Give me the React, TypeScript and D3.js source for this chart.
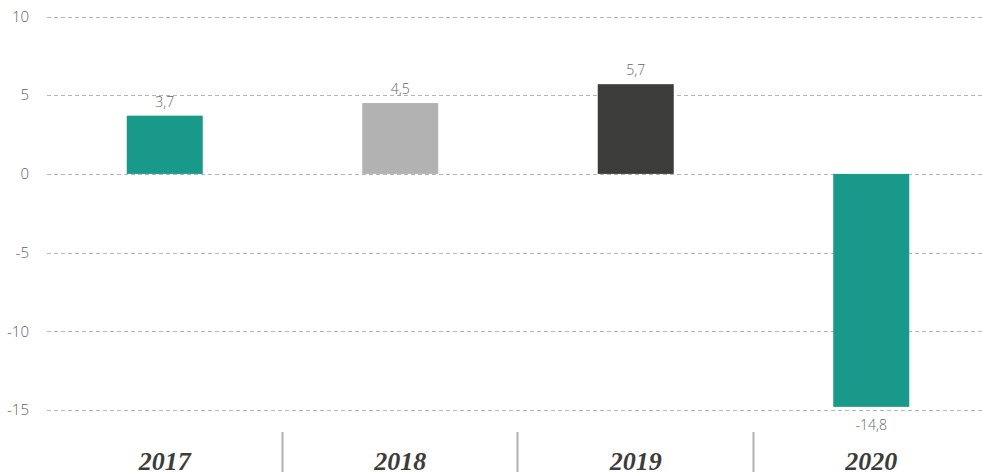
import { useEffect, useRef } from 'react';
import * as d3 from 'd3';

const years = ['2017', '2018', '2019', '2020'];
const growth = [3.7, 4.5, 5.7, -14.8];
const barColors = ['#18998a', '#b2b2b2', '#3c3c3b', '#18998a'];
const yTicks = [10, 5, 0, -5, -10, -15];

const App = () => {
  const svgRef = useRef<SVGSVGElement>(null!);

  useEffect(() => {
    const width = 982;
    const height = 472;
    const svg = d3.select(svgRef.current);
    svg.selectAll('*').remove();
    svg.attr('width', width).attr('height', height);

    const x = d3.scaleBand<string>().domain(years).range([47, 989]);
    const y = d3.scaleLinear().domain([-15, 10]).range([410, 16.5]);
    const barW = 76;

    // grid + y labels
    const grid = svg.append('g');
    grid
      .selectAll('line')
      .data(yTicks)
      .enter()
      .append('line')
      .attr('x1', 47)
      .attr('x2', width)
      .attr('y1', d => Math.round(y(d)) + 0.5)
      .attr('y2', d => Math.round(y(d)) + 0.5)
      .attr('stroke', '#b5b5b5')
      .attr('stroke-dasharray', '4,3');
    grid
      .selectAll('text')
      .data(yTicks)
      .enter()
      .append('text')
      .attr('x', 29)
      .attr('y', d => y(d))
      .attr('dy', '0.35em')
      .attr('text-anchor', 'end')
      .attr('font-family', '"Open Sans", sans-serif')
      .attr('font-weight', 300)
      .attr('font-size', 15)
      .attr('fill', '#5f5f5f')
      .text(d => d);

    // bars
    const data = years.map((yr, i) => ({ yr, v: growth[i], c: barColors[i] }));
    svg
      .selectAll('rect.bar')
      .data(data)
      .enter()
      .append('rect')
      .attr('class', 'bar')
      .attr('x', d => x(d.yr)! + x.bandwidth() / 2 - barW / 2)
      .attr('width', barW)
      .attr('y', d => y(Math.max(0, d.v)))
      .attr('height', d => Math.abs(y(d.v) - y(0)))
      .attr('fill', d => d.c);

    // value labels
    svg
      .selectAll('text.val')
      .data(data)
      .enter()
      .append('text')
      .attr('class', 'val')
      .attr('x', d => x(d.yr)! + x.bandwidth() / 2)
      .attr('y', d => (d.v >= 0 ? y(d.v) - 9 : y(d.v) + 23))
      .attr('text-anchor', 'middle')
      .attr('font-family', '"Open Sans", sans-serif')
      .attr('font-weight', 300)
      .attr('font-size', 14)
      .attr('fill', '#666666')
      .text(d => String(d.v).replace('.', ','));

    // category separators
    svg
      .selectAll('line.sep')
      .data(years.slice(1))
      .enter()
      .append('line')
      .attr('class', 'sep')
      .attr('x1', d => Math.round(x(d)!) - 0.5)
      .attr('x2', d => Math.round(x(d)!) - 0.5)
      .attr('y1', 432)
      .attr('y2', height)
      .attr('stroke', '#b0b0b0')
      .attr('stroke-width', 2);

    // year labels
    svg
      .selectAll('text.yr')
      .data(years)
      .enter()
      .append('text')
      .attr('class', 'yr')
      .attr('x', d => x(d)! + x.bandwidth() / 2)
      .attr('y', 470)
      .attr('text-anchor', 'middle')
      .attr('font-family', '"Liberation Serif", "DejaVu Serif", serif')
      .attr('font-weight', 'bold')
      .attr('font-style', 'italic')
      .attr('font-size', 26)
      .attr('fill', '#3c3c3b')
      .text(d => d);
  }, []);

  return <svg ref={svgRef} style={{ position: 'absolute', left: 0, top: 0 }}></svg>;
};

export default App;
